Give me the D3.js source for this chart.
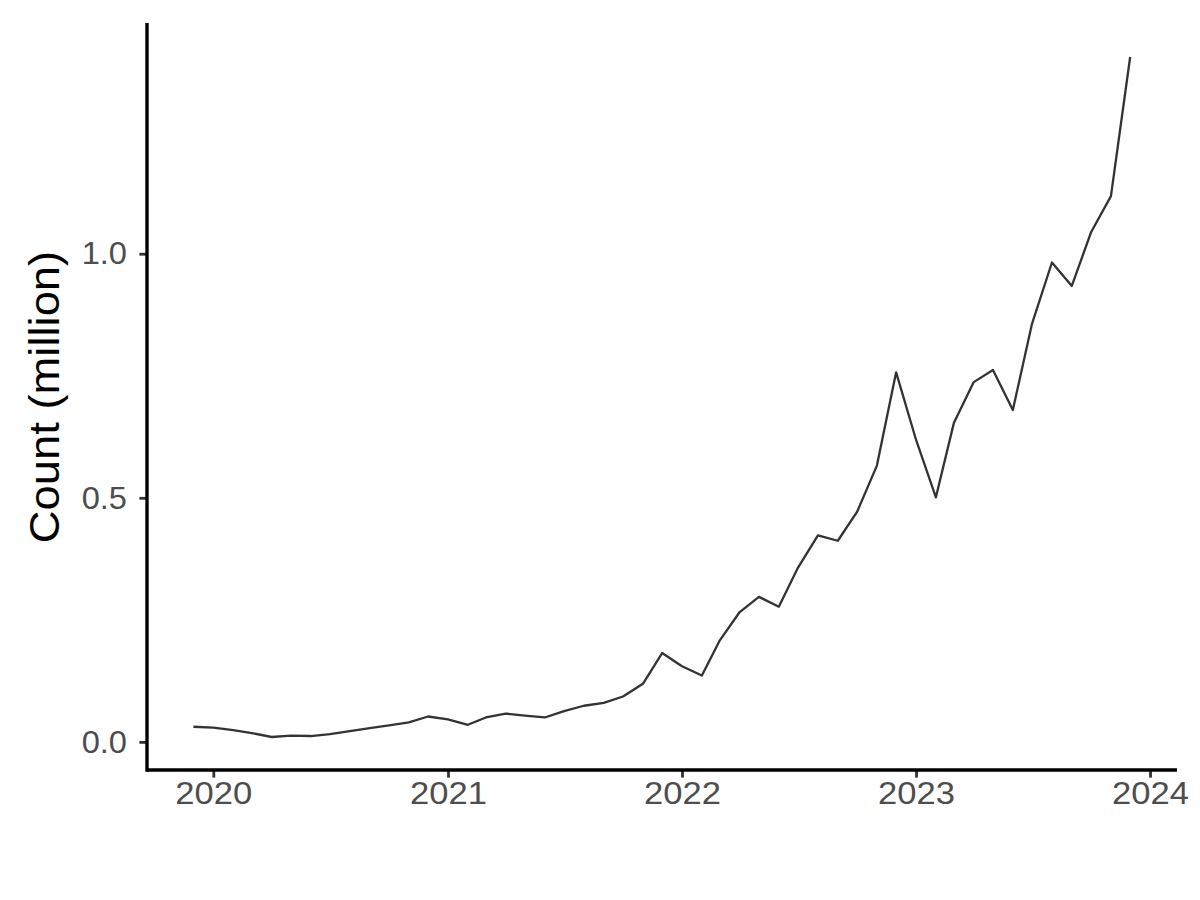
<!DOCTYPE html>
<html>
<head>
<meta charset="utf-8">
<script src="https://cdn.jsdelivr.net/npm/d3@7"></script>
<style>
  html, body { margin: 0; padding: 0; background: #fff; }
  svg { display: block; }
  text { font-family: "Liberation Sans", Arial, sans-serif; }
</style>
</head>
<body>
<svg id="chart" width="1200" height="900"></svg>
<script>
// Monthly series, Dec 2019 .. Dec 2023 (first of month)
const startYear = 2019, startMonth = 11; // December 2019
const counts = [
  0.031, 0.029, 0.024, 0.018, 0.010, 0.013, 0.012, 0.016, 0.022, 0.028, 0.034, 0.040,
  0.052, 0.046, 0.035, 0.050, 0.058, 0.054, 0.050, 0.063, 0.074, 0.080, 0.093, 0.119,
  0.182, 0.155, 0.136, 0.208, 0.266, 0.297, 0.277, 0.357, 0.423, 0.412, 0.471, 0.566,
  0.757, 0.619, 0.501, 0.653, 0.737, 0.762, 0.680, 0.857, 0.982, 0.934, 1.044, 1.118,
  1.403
];
const xTickYears = [2020, 2021, 2022, 2023, 2024];
const yTicks = [0.0, 0.5, 1.0];
const yTitle = "Count (million)";

const data = counts.map((v, i) => ({ date: new Date(startYear, startMonth + i, 1), value: v }));

const svg = d3.select("#chart");
const panel = { left: 146.6, right: 1177, top: 23, bottom: 771 };

// ggplot-like 5% expansion
const tExt = d3.extent(data, d => +d.date);
const tPad = (tExt[1] - tExt[0]) * 0.05;
const x = d3.scaleTime()
  .domain([new Date(tExt[0] - tPad), new Date(tExt[1] + tPad)])
  .range([panel.left, panel.right]);

const yExt = d3.extent(data, d => d.value);
const yPad = (yExt[1] - yExt[0]) * 0.05;
const y = d3.scaleLinear()
  .domain([yExt[0] - yPad, yExt[1] + yPad])
  .range([panel.bottom, panel.top]);

// Line
const line = d3.line().x(d => x(d.date)).y(d => y(d.value));
svg.append("path")
  .datum(data)
  .attr("d", line)
  .attr("fill", "none")
  .attr("stroke", "#333333")
  .attr("stroke-width", 2.3)
  .attr("stroke-linejoin", "round");

// X axis
const xAxis = d3.axisBottom(x)
  .tickValues(xTickYears.map(yr => new Date(yr, 0, 1)))
  .tickFormat(d3.timeFormat("%Y"))
  .tickSize(7.6)
  .tickSizeOuter(0)
  .tickPadding(4);
const gx = svg.append("g").attr("transform", `translate(0,${panel.bottom - 1})`).call(xAxis);
gx.select(".domain").remove();
gx.selectAll(".tick line").attr("stroke", "#333333").attr("stroke-width", 2.8);
gx.selectAll(".tick text")
  .attr("fill", "#4D4D4D")
  .style("font-size", "32px")
  .attr("dy", "0.71em")
  .attr("y", 11);

// Y axis
const yAxis = d3.axisLeft(y)
  .tickValues(yTicks)
  .tickFormat(d3.format(".1f"))
  .tickSize(7.6)
  .tickSizeOuter(0)
  .tickPadding(4);
const gy = svg.append("g").attr("transform", `translate(${panel.left + 0.4},0)`).call(yAxis);
gy.select(".domain").remove();
gy.selectAll(".tick line").attr("stroke", "#333333").attr("stroke-width", 2.8);
gy.selectAll(".tick text")
  .attr("fill", "#4D4D4D")
  .style("font-size", "32px")
  .attr("x", -20);

// Axis lines (theme_classic)
svg.append("line")
  .attr("x1", x.range()[0]).attr("x2", x.range()[1])
  .attr("y1", panel.bottom - 1).attr("y2", panel.bottom - 1)
  .attr("stroke", "#000").attr("stroke-width", 3.4);
svg.append("line")
  .attr("x1", panel.left + 0.4).attr("x2", panel.left + 0.4)
  .attr("y1", panel.top).attr("y2", panel.bottom + 0.7)
  .attr("stroke", "#000").attr("stroke-width", 3.4);

// Widen labels slightly to match reference glyph proportions
function widen(sel, f) {
  sel.each(function () {
    const w = this.getComputedTextLength();
    d3.select(this).attr("textLength", w * f).attr("lengthAdjust", "spacingAndGlyphs");
  });
}
widen(gx.selectAll(".tick text"), 1.08);
widen(gy.selectAll(".tick text"), 1.02);

// Y title
const title = svg.append("text")
  .attr("transform", `translate(59,${(panel.top + panel.bottom) / 2}) rotate(-90)`)
  .attr("text-anchor", "middle")
  .attr("fill", "#000")
  .style("font-size", "42px")
  .text(yTitle);
widen(title, 1.08);
</script>
</body>
</html>
